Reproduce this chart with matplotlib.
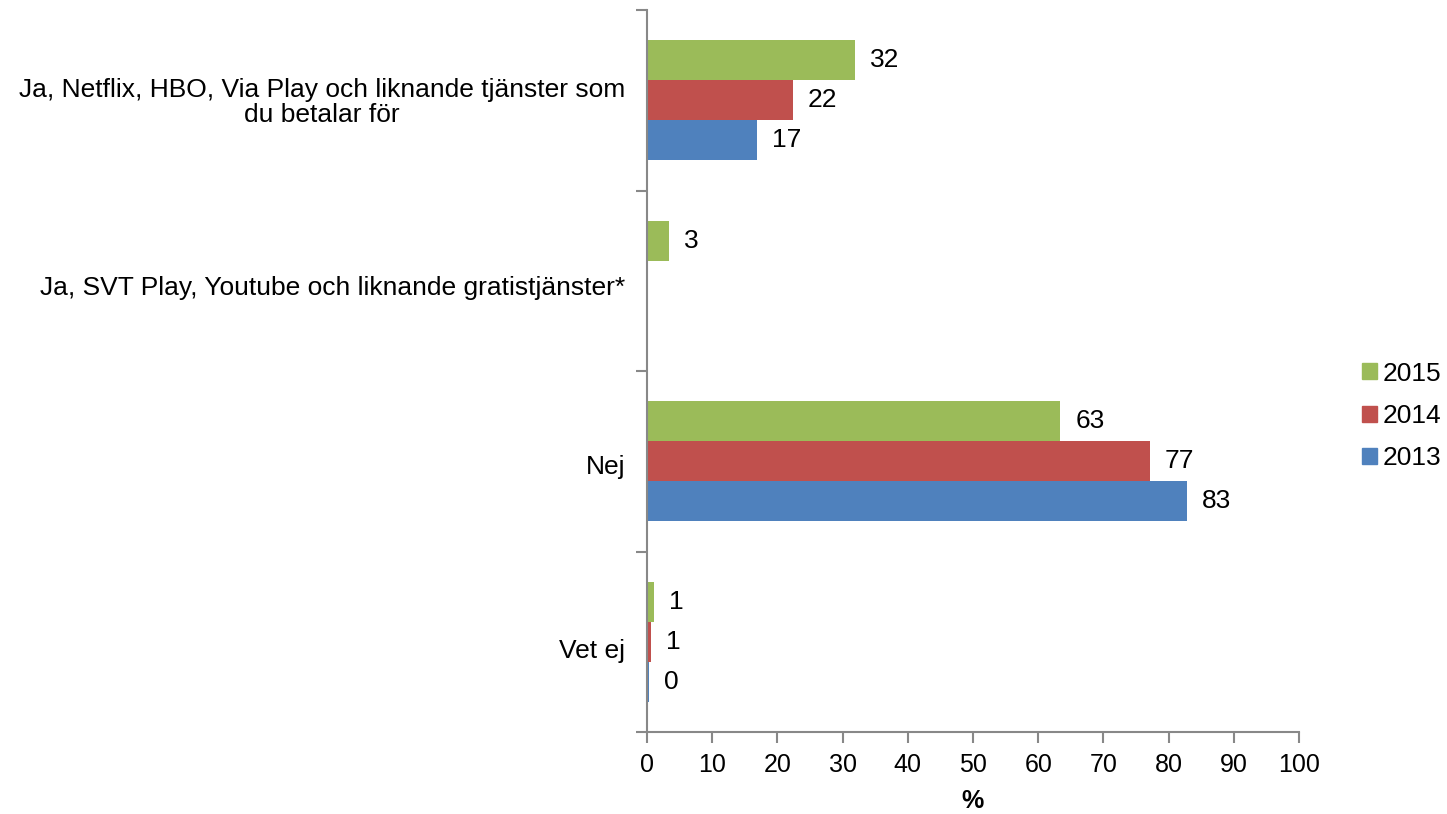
import numpy as np
import matplotlib.pyplot as plt
from matplotlib.patches import Patch

plt.rcParams['font.family'] = ['Liberation Sans', 'DejaVu Sans']

kategorier = ["Ja, Netflix, HBO, Via Play och liknande tjänster som\ndu betalar för",
              "Ja, SVT Play, Youtube och liknande gratistjänster*",
              "Nej",
              "Vet ej"]
ar = ["2015", "2014", "2013"]
v2015 = [31.9, 3.4, 63.4, 1.1]
v2014 = [22.4, np.nan, 77.1, 0.6]
v2013 = [16.9, np.nan, 82.8, 0.3]
farger = ["#9BBB59", "#C0504D", "#4F81BD"]

fig = plt.figure(figsize=(14.47, 8.14), dpi=100)
ax = fig.add_axes([647/1447, 1-732/814, 652/1447, 722/814])

y = np.arange(len(kategorier))
h = 0.222
for i, (serie, f) in enumerate(zip([v2015, v2014, v2013], farger)):
    pos = y + (i - 1) * h
    ax.barh(pos, serie, height=h, color=f)
    for p, v in zip(pos, serie):
        if not np.isnan(v):
            ax.text(v + 2.3, p, "%.0f" % v, va="center", ha="left", fontsize=19)

ax.set_xlim(0, 100)
ax.set_ylim(3.5, -0.5)
ax.set_xticks(np.arange(0, 101, 10))
ax.set_yticks(np.arange(-0.5, 4, 1))
ax.set_yticklabels([])

# kategorietiketter, centrerade rader men högerställda mot axeln
forskj = [0.015, 0.04, 0.03, 0.05]
for yy, txt, d in zip(y, kategorier, forskj):
    ax.annotate(txt, xy=(0, yy + d), xycoords=("axes fraction", "data"),
                xytext=(-22, 0), textcoords="offset pixels",
                ha="right", va="center", multialignment="center", fontsize=19,
                linespacing=1.05)

ax.tick_params(axis="y", which="major", length=8, color="#888888", width=1.5)
ax.tick_params(axis="x", length=8, color="#888888", width=1.5, labelsize=18, pad=7)
ax.set_xlabel("%", fontsize=18, fontweight="bold", labelpad=9)

for s in ["top", "right"]:
    ax.spines[s].set_visible(False)
for s in ["left", "bottom"]:
    ax.spines[s].set_color("#888888")
    ax.spines[s].set_linewidth(1.5)

handles = [Patch(color=f, label=a) for f, a in zip(farger, ar)]
fig.legend(handles=handles, loc="center left", bbox_to_anchor=(1362/1447, 1-416/814),
           frameon=False, fontsize=19, handlelength=0.55, handleheight=0.55,
           handletextpad=0.25, labelspacing=0.7, borderpad=0, borderaxespad=0)

fig.savefig("out.png", dpi=100)
